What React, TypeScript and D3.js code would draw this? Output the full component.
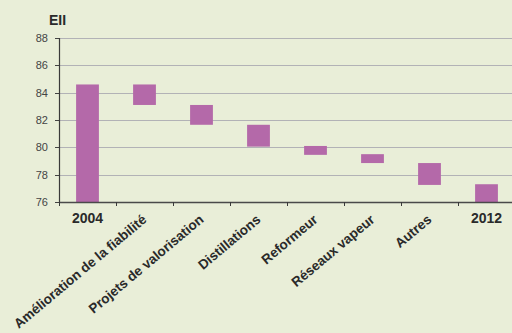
import React from 'react';
import * as d3 from 'd3';

// waterfall steps: bottom and top of each floating bar
const categories = [
  '2004',
  'Amélioration de la fiabilité',
  'Projets de valorisation',
  'Distillations',
  'Reformeur',
  'Réseaux vapeur',
  'Autres',
  '2012',
];
const barLow = [76, 83.1, 81.65, 80.05, 79.45, 78.85, 77.25, 76];
const barHigh = [84.6, 84.6, 83.1, 81.65, 80.1, 79.5, 78.85, 77.3];
const yTicks = [76, 78, 80, 82, 84, 86, 88];
const yearLabels = ['2004', '2012'];

const W = 512;
const H = 333;
const font = '"Liberation Sans", Arial, Helvetica, sans-serif';

const App = () => {
  const x = d3.scaleBand<string>().domain(categories).range([59, 515]).padding(0);
  const y = d3.scaleLinear().domain([76, 88]).range([202, 38]);
  const bw = x.bandwidth() * 0.4;
  const bounds = [...categories.map(c => x(c)!), x.range()[1]];

  return (
    <svg
      width={W}
      height={H}
      style={{ position: 'fixed', left: 0, top: 0, display: 'block' }}
      fontFamily={font}
    >
      <rect width={W} height={H} fill="#E9EED8" />

      {/* grid */}
      {yTicks.map(t => (
        <g key={t}>
          {t > 76 && (
            <line x1={59} x2={W} y1={Math.round(y(t)) + 0.5} y2={Math.round(y(t)) + 0.5}
              stroke="#B2B2B6" strokeWidth={1.2} />
          )}
          <line x1={55} x2={59} y1={Math.round(y(t)) + 0.5} y2={Math.round(y(t)) + 0.5}
            stroke="#444" strokeWidth={1} />
          <text x={48} y={y(t) + 4} textAnchor="end" fontSize={11} fill="#444">{t}</text>
        </g>
      ))}

      {/* bars */}
      {categories.map((c, i) => (
        <rect key={c}
          x={x(c)! + (x.bandwidth() - bw) / 2}
          y={y(barHigh[i])}
          width={bw}
          height={y(barLow[i]) - y(barHigh[i])}
          fill="#B469A9" />
      ))}

      {/* axes */}
      <line x1={59.5} x2={59.5} y1={38} y2={203} stroke="#3a3a3a" strokeWidth={1.2} />
      <line x1={59} x2={W} y1={202.5} y2={202.5} stroke="#4a4a4a" strokeWidth={1.4} />
      {bounds.map((b, i) => (
        <line key={i} x1={b + 0.5} x2={b + 0.5} y1={202} y2={206} stroke="#3a3a3a" strokeWidth={1} />
      ))}

      <text x={49} y={25} fontSize={14} fontWeight="bold" fill="#2a2a2a">EII</text>

      {/* category labels */}
      {categories.map(c => {
        const cx = x(c)! + x.bandwidth() / 2;
        if (yearLabels.includes(c)) {
          return (
            <text key={c} x={cx} y={223} textAnchor="middle" fontSize={14} fontWeight="bold" fill="#2a2a2a">{c}</text>
          );
        }
        return (
          <text key={c} transform={`translate(${cx + 3},221) rotate(-40)`} textAnchor="end"
            fontSize={13.5} fontWeight="bold" fill="#2a2a2a">{c}</text>
        );
      })}
    </svg>
  );
};

export default App;
